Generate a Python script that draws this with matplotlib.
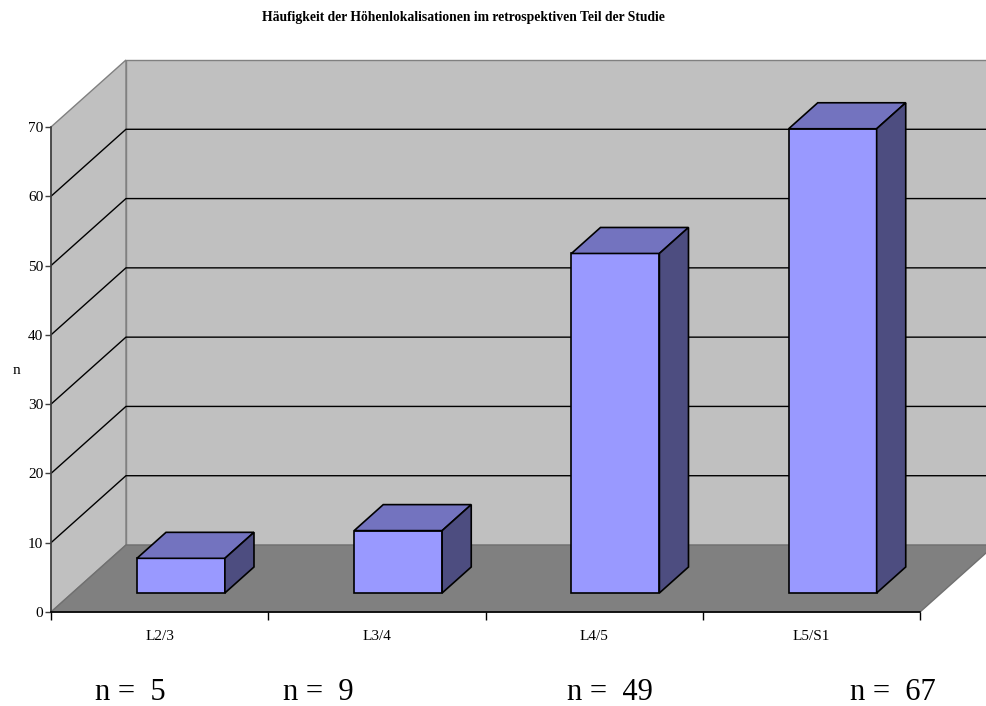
import numpy as np
import matplotlib.pyplot as plt
from matplotlib.patches import Polygon

# Höhenlokalisationen und Fallzahlen
levels = ['L2/3', 'L3/4', 'L4/5', 'L5/S1']
counts = [5, 9, 49, 67]
y_ticks = [0, 10, 20, 30, 40, 50, 60, 70]

plt.rcParams['font.family'] = ['Liberation Serif', 'DejaVu Serif']

# Perspective offset for one full unit of depth (in data units)
DX, DY = 0.345, 9.67
YMAX = 70


def proj(x, v, d):
    return (x + d * DX, v + d * DY)


def face(ax, pts, fc, ec, lw=1.0, z=1):
    poly = Polygon([proj(*p) for p in pts], closed=True, facecolor=fc,
                   edgecolor=ec, linewidth=lw, zorder=z, clip_on=False)
    ax.add_patch(poly)


fig = plt.figure(figsize=(9.86, 7.06), dpi=100)
ax = fig.add_axes([51 / 986, 94 / 706, 869 / 986, 485 / 706])
ax.set_xlim(0, len(levels))
ax.set_ylim(0, YMAX)
ax.patch.set_visible(False)

n = len(levels)

# walls and floor
face(ax, [(0, 0, 1), (n, 0, 1), (n, YMAX, 1), (0, YMAX, 1)], '#c0c0c0', '#808080', 1.0, 0)
face(ax, [(0, 0, 0), (0, 0, 1), (0, YMAX, 1), (0, YMAX, 0)], '#c0c0c0', '#808080', 1.0, 0)
face(ax, [(0, 0, 0), (n, 0, 0), (n, 0, 1), (0, 0, 1)], '#808080', '#707070', 1.0, 0.5)

# gridlines on side and back wall
for v in y_ticks[1:-1]:
    xs, ys = zip(proj(0, v, 0), proj(0, v, 1), proj(n, v, 1))
    ax.plot(xs, ys, color='black', lw=1.0, zorder=1, clip_on=False,
            solid_capstyle='butt')

# 3D bars
half_w = 0.2025
d0, d1 = 0.284, 0.672
for i, val in enumerate(counts):
    x0 = i + 0.5 - half_w
    x1 = i + 0.5 + half_w
    face(ax, [(x0, 0, d0), (x1, 0, d0), (x1, val, d0), (x0, val, d0)], '#9999ff', 'black', 1.2, 3)
    face(ax, [(x0, val, d0), (x1, val, d0), (x1, val, d1), (x0, val, d1)], '#7373bf', 'black', 1.2, 3)
    face(ax, [(x1, 0, d0), (x1, 0, d1), (x1, val, d1), (x1, val, d0)], '#4d4d80', 'black', 1.2, 3)

# axes
for side in ['top', 'right']:
    ax.spines[side].set_visible(False)
ax.spines['left'].set_color('#404040')
ax.spines['bottom'].set_color('black')
ax.spines['left'].set_linewidth(1.2)
ax.spines['bottom'].set_linewidth(1.2)
ax.spines['left'].set_zorder(2)
ax.spines['bottom'].set_zorder(2)

ax.set_yticks(y_ticks)
ax.set_yticklabels([str(t) for t in y_ticks], fontsize=11)
ax.tick_params(axis='y', direction='out', length=4, width=1, pad=1.5, color='#404040')

ax.set_xticks(np.arange(n + 1))
ax.set_xticklabels([])
ax.tick_params(axis='x', which='major', direction='out', length=5.5, width=1, color='black')
ax.set_xticks(np.arange(n) + 0.5, minor=True)
ax.set_xticklabels(levels, minor=True, fontsize=11)
ax.tick_params(axis='x', which='minor', length=0, pad=13)

fig.text(16 / 986, 1 - 371 / 706, 'n', fontsize=11, ha='center', va='center')

fig.text(463 / 986, 1 - 18 / 706,
         'Häufigkeit der Höhenlokalisationen im retrospektiven Teil der Studie',
         fontsize=9.8, fontweight='bold', ha='center', va='center')

# case numbers below each level
n_label_x = [95, 283, 567, 850]
for xp, val in zip(n_label_x, counts):
    fig.text(xp / 986, 1 - 700 / 706, f'n =  {val}', fontsize=22,
             ha='left', va='baseline')

fig.savefig('out.png', dpi=100)
